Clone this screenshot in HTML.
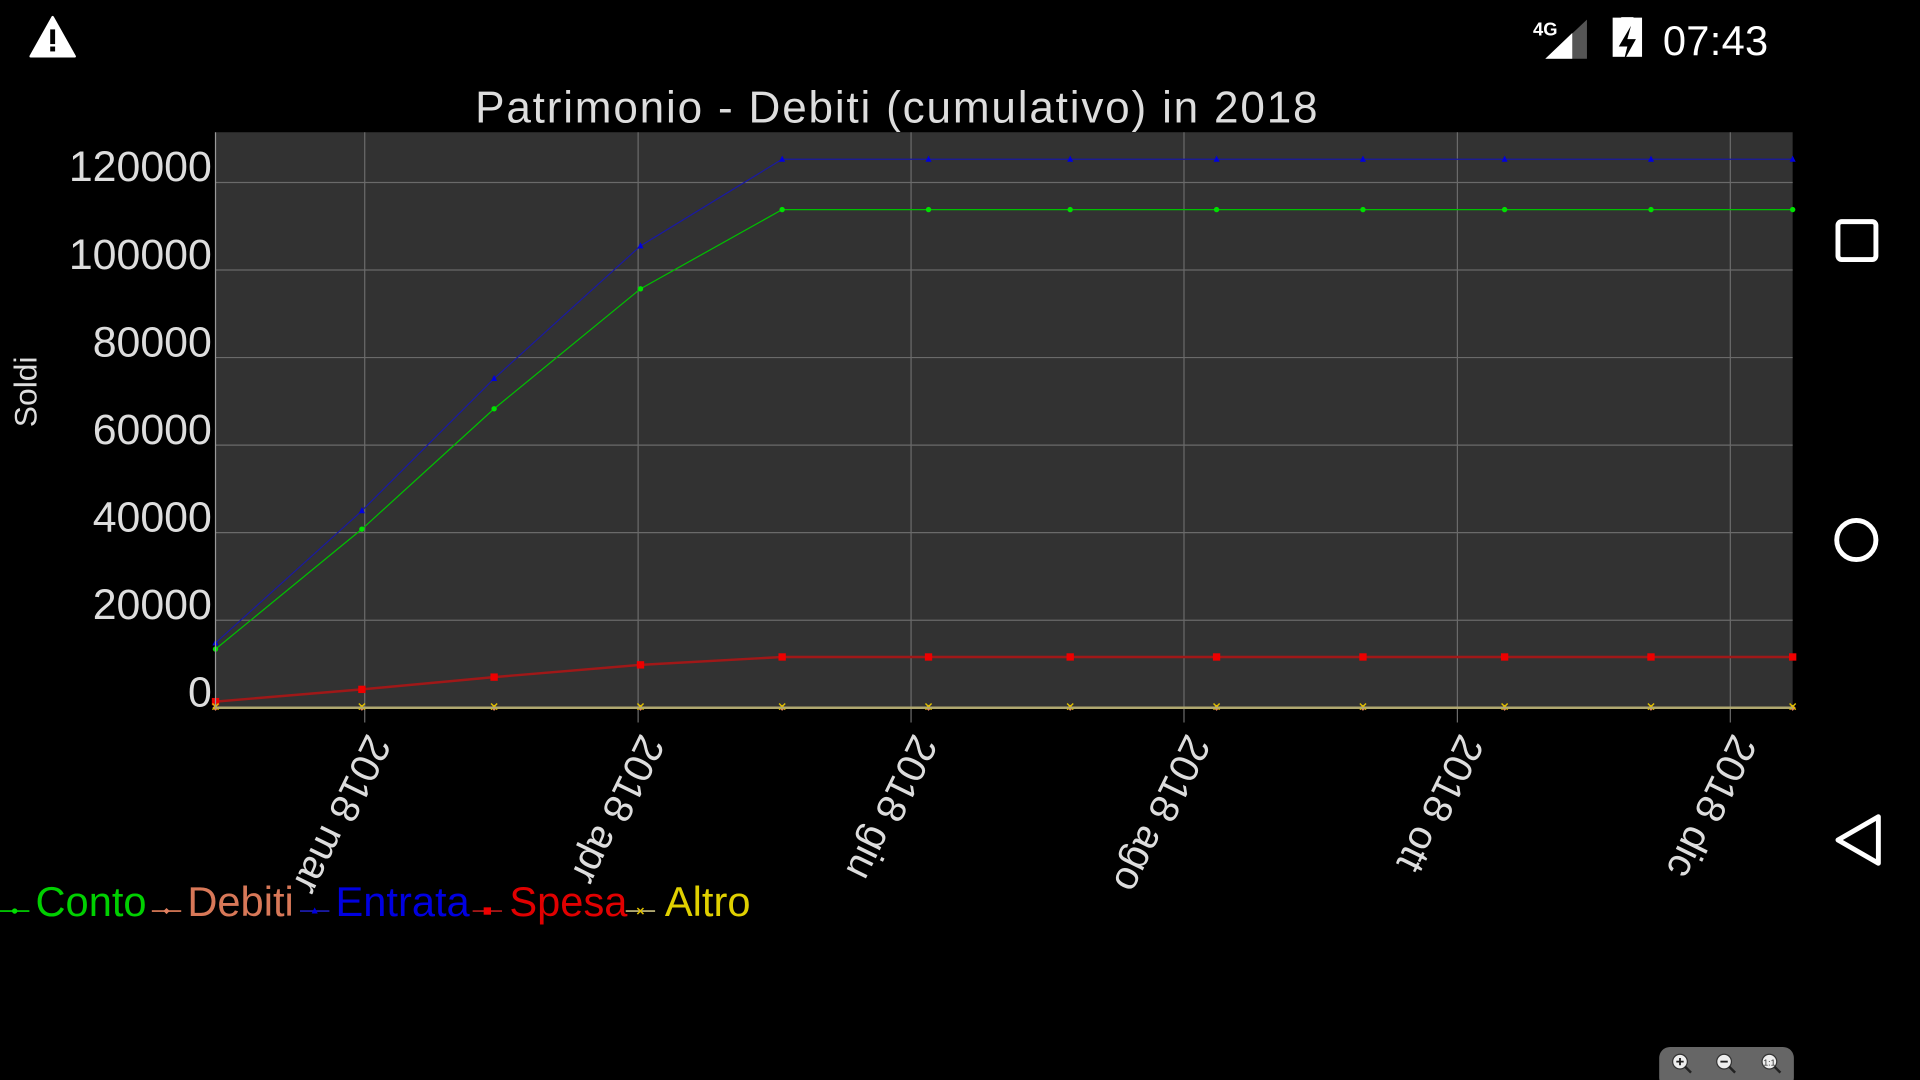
<!DOCTYPE html>
<html><head><meta charset="utf-8"><style>
html,body{margin:0;padding:0;background:#000;width:1920px;height:1080px;overflow:hidden}
svg{display:block}
text{font-family:"Liberation Sans",sans-serif}
</style></head><body>
<svg id="c" width="1920" height="1080" viewBox="0 0 1568 882">
  <rect x="0" y="0" width="1568" height="882" fill="#000"/>
  <g>
    <path d="M43 14 L61 46 L25 46 Z" fill="#fff" stroke="#fff" stroke-width="2" stroke-linejoin="round"/>
    <rect x="41" y="24" width="4" height="12" fill="#000"/><rect x="41" y="38" width="4" height="4" fill="#000"/>
  </g>
  <g>
    <text x="1252" y="29" fill="#fff" font-size="15" font-weight="bold">4G</text>
    <path d="M1262 48 L1296 16 L1296 48 Z" fill="#555"/>
    <path d="M1262 48 L1284 27 L1284 48 Z" fill="#fff"/>
  </g>
  <g>
    <rect x="1317" y="19" width="24" height="40" fill="#fff" transform="translate(0,-4) scale(1,0.8) translate(0,4)"/>
    <rect x="1324" y="14" width="10" height="4" fill="#fff"/>
    <path d="M1332 21 L1322 38 L1329 38 L1326 50 L1336 32 L1329 32 Z" fill="#000"/>
  </g>
  <text x="1358" y="45" fill="#fff" font-size="34" textLength="86">07:43</text>
  <rect x="1501" y="181" width="31" height="31" rx="3" fill="none" stroke="#fff" stroke-width="4"/>
  <circle cx="1516" cy="441" r="16" fill="none" stroke="#fff" stroke-width="4"/>
  <path d="M1534 667 L1534 705 L1501 686 Z" fill="none" stroke="#fff" stroke-width="4" stroke-linejoin="round"/>

  <text x="732" y="100" fill="#ddd" font-size="36" text-anchor="middle" textLength="688">Patrimonio - Debiti (cumulativo) in 2018</text>
  <text transform="translate(30,320) rotate(-90)" fill="#ddd" font-size="26" text-anchor="middle">Soldi</text>

  <rect x="176" y="108" width="1288" height="470" fill="#323232"/>
  <g id="grid"></g>
  <g id="series"></g>
  <g id="axes"></g>
  <g id="legend"></g>

  <g>
    <rect x="1355" y="855" width="110" height="34" rx="9" fill="#666"/>
    <g><circle cx="1372" cy="867" r="6" fill="#eee" stroke="#333"/><path d="M1376 871 L1381 876" stroke="#222" stroke-width="2"/><path d="M1369 867h6M1372 864v6" stroke="#222" stroke-width="1.5"/></g>
    <g><circle cx="1408" cy="867" r="6" fill="#eee" stroke="#333"/><path d="M1412 871 L1417 876" stroke="#222" stroke-width="2"/><path d="M1405 867h6" stroke="#222" stroke-width="1.5"/></g>
    <g><circle cx="1445" cy="867" r="6" fill="#eee" stroke="#333"/><path d="M1449 871 L1454 876" stroke="#222" stroke-width="2"/><text x="1445" y="870" font-size="7" text-anchor="middle" fill="#222">1:1</text></g>
  </g>
</svg>
<script>
const dayOfYear = [0,31,59,90,120,151,181,212,243,273,304,334];
const conto   = [13400,40800,68300,95700,113800,113800,113800,113800,113800,113800,113800,113800];
const debiti  = [0,0,0,0,0,0,0,0,0,0,0,0];
const entrata = [14800,45000,75200,105500,125300,125300,125300,125300,125300,125300,125300,125300];
const spesa   = [1400,4200,7000,9800,11600,11600,11600,11600,11600,11600,11600,11600];
const altro   = [0,0,0,0,0,0,0,0,0,0,0,0];
const yTicks = [0,20000,40000,60000,80000,100000,120000];
const xTickDays = [31.6,89.5,147.3,205.1,263,320.8];
const xTickLabels = ["2018 mar","2018 apr","2018 giu","2018 ago","2018 ott","2018 dic"];
const legendNames = ["Conto","Debiti","Entrata","Spesa","Altro"];

const NS="http://www.w3.org/2000/svg";
const L=176,R=1464,T=108,B=578,DMAX=334,YMAX=131470;
const xs=d=>L+d*(R-L)/DMAX;
const ys=v=>B-v*(B-T)/YMAX;
function mk(tag,attrs,parent){const e=document.createElementNS(NS,tag);for(const k in attrs)e.setAttribute(k,attrs[k]);parent.appendChild(e);return e;}
const grid=document.getElementById('grid'),series=document.getElementById('series'),axes=document.getElementById('axes'),legend=document.getElementById('legend');

yTicks.forEach(v=>{
  const y=ys(v);
  if(v>0){const g=mk('line',{x1:L,x2:R,y1:y,y2:y,stroke:'#6a6a6a','stroke-width':1},grid);
    
    }
  const t=mk('text',{x:173,y:y-1,fill:'#ddd','font-size':35,'text-anchor':'end'},axes);
  t.textContent=String(v);
  
  
});
xTickDays.forEach((d,i)=>{
  const x=xs(d);
  const g=mk('line',{x1:x,x2:x,y1:T,y2:590,stroke:'#6a6a6a','stroke-width':1},grid);
  
  
  const t=mk('text',{transform:`translate(${x+2},${598}) rotate(116)`,fill:'#ddd','font-size':33},axes);
  t.textContent=xTickLabels[i];
  
  
});
const la=mk('line',{x1:L,x2:L,y1:T,y2:B,stroke:'#999','stroke-width':1},axes);



const defs=[
 {name:'conto',vals:conto,line:'#00c000',mark:'#00e000',shape:'dot',w:1},
 {name:'debiti',vals:debiti,line:'#c87050',mark:'#e08060',shape:'diamond',w:1},
 {name:'entrata',vals:entrata,line:'#1a1aa0',mark:'#0000e0',shape:'tri',w:1},
 {name:'spesa',vals:spesa,line:'#a01818',mark:'#ee0000',shape:'sq',w:2},
 {name:'altro',vals:altro,line:'#b0a870',mark:'#e0c000',shape:'x',w:2}
];
function marker(shape,x,y,c,p){
  if(shape==='dot')return mk('circle',{cx:x,cy:y,r:2.2,fill:c},p);
  if(shape==='sq')return mk('rect',{x:x-3,y:y-3,width:6,height:6,fill:c},p);
  if(shape==='tri')return mk('path',{d:`M${x} ${y-3}L${x+2.5} ${y+2}L${x-2.5} ${y+2}Z`,fill:c},p);
  if(shape==='diamond')return mk('path',{d:`M${x} ${y-2.5}L${x+2.5} ${y}L${x} ${y+2.5}L${x-2.5} ${y}Z`,fill:c},p);
  return mk('path',{d:`M${x-2.5} ${y-2.5}L${x+2.5} ${y+2.5}M${x+2.5} ${y-2.5}L${x-2.5} ${y+2.5}`,stroke:c,'stroke-width':1.2},p);
}
defs.forEach(s=>{
  const g=mk('g',{},series);
  
  
  const pts=s.vals.map((v,i)=>xs(dayOfYear[i])+','+ys(v)).join(' ');
  const pl=mk('polyline',{points:pts,fill:'none',stroke:s.line,'stroke-width':s.w},g);
  
  
  s.vals.forEach((v,i)=>{
    const m=marker(s.shape,xs(dayOfYear[i]),ys(v)-(s.shape==='x'?1:0),s.mark,g);
    
    
  });
});
const xa=mk('line',{x1:L,x2:R,y1:B,y2:B,stroke:'#b0a870','stroke-width':1.5},axes);



const lx=[0,124,245,386,511], tx=[29,153,274,416,543];
const lcol=['#00d000','#d87858','#0000e0','#e00000','#e0d000'];
defs.forEach((s,i)=>{
  const g=mk('g',{},legend);
  
  
  mk('line',{x1:lx[i],x2:lx[i]+24,y1:744,y2:744,stroke:s.line,'stroke-width':1.5},g);
  marker(s.shape,lx[i]+12,744,s.mark,g);
  const t=mk('text',{x:tx[i],y:748,fill:lcol[i],'font-size':34},g);
  t.textContent=legendNames[i];
});
</script>
</body></html>
